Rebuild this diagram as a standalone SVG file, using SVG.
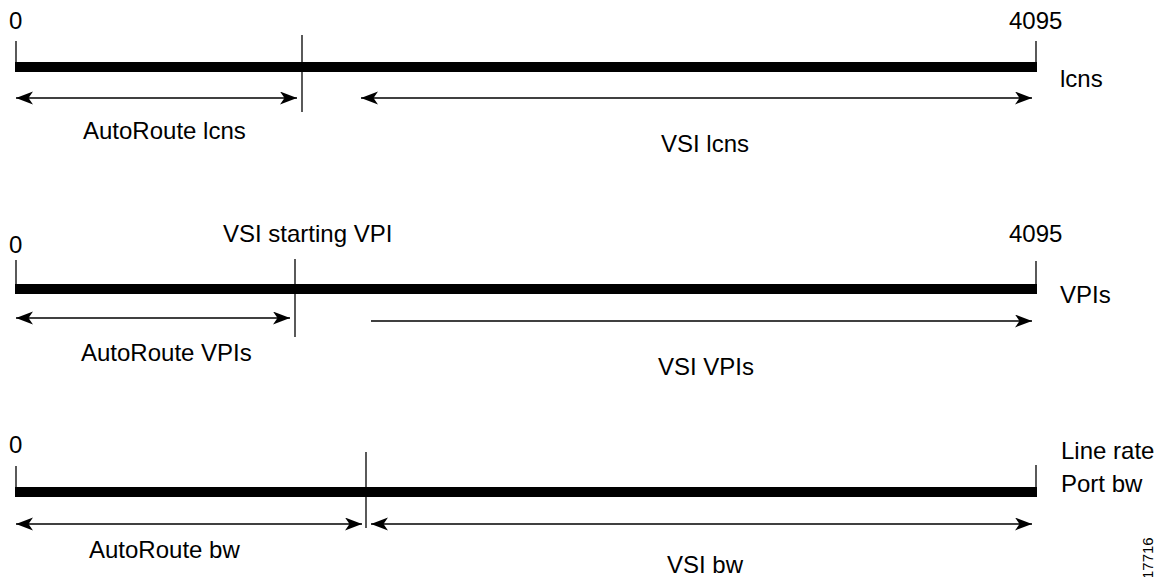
<svg xmlns="http://www.w3.org/2000/svg" width="1164" height="577" viewBox="0 0 1164 577">
<style>
text{font-family:"Liberation Sans",Arial,Helvetica,sans-serif;font-size:24px;fill:#000}
.bar{fill:#000}
.tick{stroke:#000;stroke-width:1.3;fill:none}
.arr{stroke:#000;stroke-width:1.3;fill:none}
.dbl{marker-start:url(#ah);marker-end:url(#ah)}
.one{marker-end:url(#ah)}
</style>
<defs>
<marker id="ah" markerUnits="userSpaceOnUse" markerWidth="18" markerHeight="14" refX="17" refY="6.5" orient="auto-start-reverse" viewBox="0 0 18 14">
<path d="M0,0 L17,6.5 L0,13 L4.5,6.5 Z" fill="#000"/>
</marker>
</defs>
<rect width="1164" height="577" fill="#fff"/>

<g id="row-lcns">
<rect class="bar" x="15" y="62" width="1022" height="10"/>
<line class="tick" x1="16" y1="41" x2="16" y2="72"/>
<line class="tick" x1="1036" y1="41" x2="1036" y2="66"/>
<line class="tick" x1="302" y1="35" x2="302" y2="112"/>
<text x="9" y="29">0</text>
<text x="1009" y="29">4095</text>
<text x="1060" y="87">lcns</text>
<text x="83" y="139">AutoRoute lcns</text>
<text x="661" y="152">VSI lcns</text>
</g>

<g id="row-vpis">
<rect class="bar" x="15" y="284" width="1022" height="10"/>
<line class="tick" x1="16" y1="260" x2="16" y2="294"/>
<line class="tick" x1="1036" y1="261" x2="1036" y2="288"/>
<line class="tick" x1="295" y1="259" x2="295" y2="337"/>
<text x="9" y="253">0</text>
<text x="223" y="242">VSI starting VPI</text>
<text x="1009" y="242">4095</text>
<text x="1060" y="303">VPIs</text>
<text x="81" y="361">AutoRoute VPIs</text>
<text x="658" y="375">VSI VPIs</text>
</g>

<g id="row-bw">
<rect class="bar" x="15" y="487" width="1022" height="10"/>
<line class="tick" x1="16" y1="466" x2="16" y2="497"/>
<line class="tick" x1="1036" y1="465" x2="1036" y2="490"/>
<line class="tick" x1="366" y1="452" x2="366" y2="528"/>
<text x="9" y="453">0</text>
<text x="1061" y="459">Line rate</text>
<text x="1061" y="492">Port bw</text>
<text x="89" y="558">AutoRoute bw</text>
<text x="667" y="573">VSI bw</text>
<text x="1153" y="579" transform="rotate(-90 1153 579)" style="font-size:15px">17716</text>
</g>

<g id="connectors">
<line class="arr dbl" x1="16" y1="98" x2="297" y2="98"/>
<line class="arr dbl" x1="361" y1="98" x2="1032" y2="98"/>
<line class="arr dbl" x1="16" y1="318" x2="290" y2="318"/>
<line class="arr one" x1="371" y1="321" x2="1032" y2="321"/>
<line class="arr dbl" x1="16" y1="524" x2="362" y2="524"/>
<line class="arr dbl" x1="371" y1="524" x2="1032" y2="524"/>
</g>
</svg>
